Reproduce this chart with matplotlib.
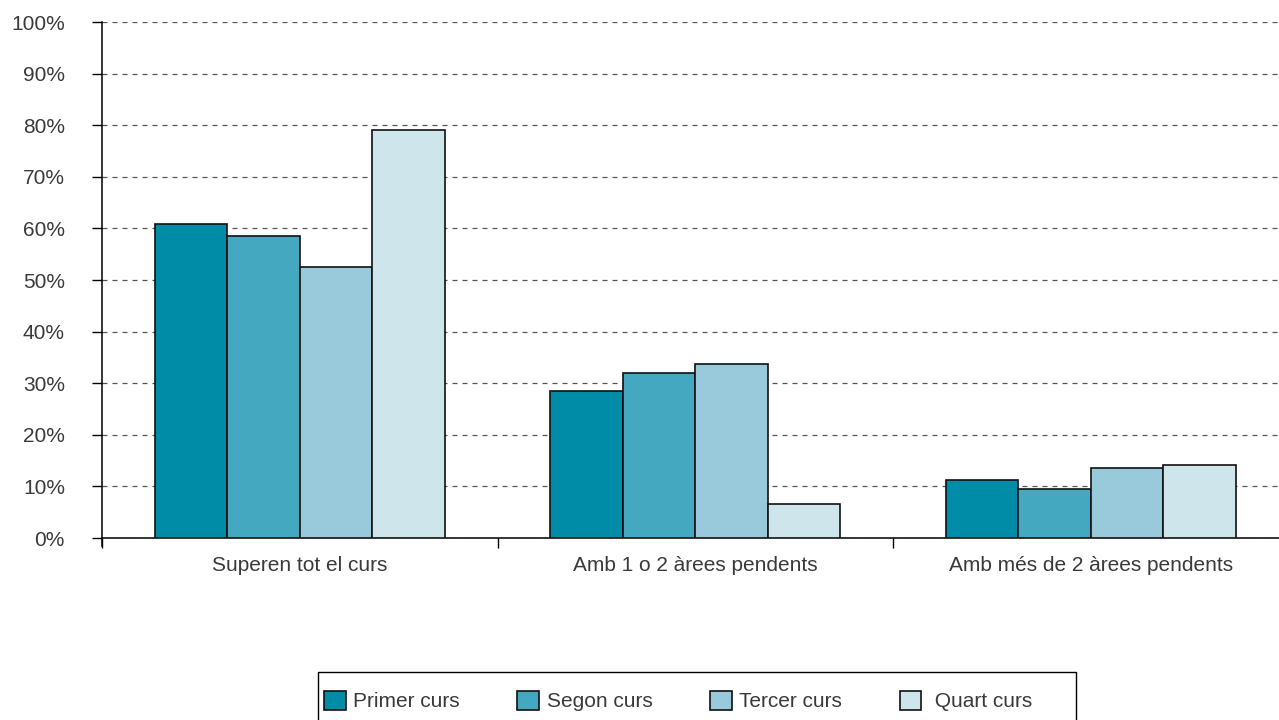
import numpy as np
import matplotlib.pyplot as plt
from matplotlib.patches import Rectangle

CATEGORIES = ['Superen tot el curs', 'Amb 1 o 2 àrees pendents', 'Amb més de 2 àrees pendents']
SERIES = ['Primer curs', 'Segon curs', 'Tercer curs', ' Quart curs']
PRIMER = [60.9, 28.4, 11.2]
SEGON = [58.5, 32.0, 9.5]
TERCER = [52.6, 33.7, 13.6]
QUART = [79.1, 6.6, 14.2]
Y_TICKS = list(range(0, 101, 10))
Y_LABELS = [f'{t}%' for t in Y_TICKS]

COLORS = ['#008ba6', '#44a9c0', '#99cadb', '#cfe5ec']
TEXT_COLOR = '#3a3a3a'
W, H = 1279, 720


def plot_chart():
    plt.rcParams['font.family'] = ['Liberation Sans', 'DejaVu Sans']
    fig = plt.figure(figsize=(W / 100, H / 100), dpi=100)
    # axes run a little past the right edge, like the original crop
    ax = fig.add_axes([102 / W, 1 - 538 / H, 1186.5 / W, 516 / H])

    x = np.arange(len(CATEGORIES))
    width = 0.183
    values = [PRIMER, SEGON, TERCER, QUART]
    for i, (name, vals) in enumerate(zip(SERIES, values)):
        offset = (i - 1.5) * width
        ax.bar(x + offset, vals, width, color=COLORS[i], edgecolor='#111111',
               linewidth=1.2, label=name, zorder=3)

    ax.set_xlim(-0.5, 2.5)
    ax.set_ylim(0, 100)
    ax.set_yticks(Y_TICKS)
    ax.set_yticklabels(Y_LABELS, fontsize=15, color=TEXT_COLOR)
    ax.yaxis.grid(True, linestyle=(0, (4, 4)), color='#555555', linewidth=0.9, zorder=0)

    # category labels centered, ticks on the boundaries
    ax.set_xticks([-0.5, 0.5, 1.5])
    ax.set_xticklabels([])
    ax.set_xticks(x, minor=True)
    ax.set_xticklabels(CATEGORIES, minor=True, fontsize=15, color=TEXT_COLOR)
    ax.tick_params(axis='x', which='minor', length=0, pad=13)
    ax.tick_params(axis='x', which='major', length=7, width=1, color='black')
    ax.tick_params(axis='y', length=7.2, width=1, color='black', pad=19.5)

    ax.spines['top'].set_visible(False)
    ax.spines['right'].set_visible(False)
    ax.spines['left'].set_bounds(-1.5, 100)
    ax.spines['left'].set_linewidth(1.1)
    ax.spines['bottom'].set_linewidth(1.1)

    fig.legend(loc='center left', bbox_to_anchor=(324 / W, 1 - 701 / H, 708 / W, 0),
               mode='expand', ncol=4, fontsize=15, handlelength=1.05, handleheight=1.05,
               handletextpad=0.35, borderpad=0, borderaxespad=0, frameon=False,
               labelcolor=TEXT_COLOR)
    fig.patches.append(Rectangle((318 / W, 1 - 740 / H), 758 / W, 68 / H,
                                 transform=fig.transFigure, fill=False,
                                 edgecolor='black', linewidth=1.0))

    fig.savefig('out.png', dpi=100)


def main():
    plot_chart()


if __name__ == "__main__":
    main()
